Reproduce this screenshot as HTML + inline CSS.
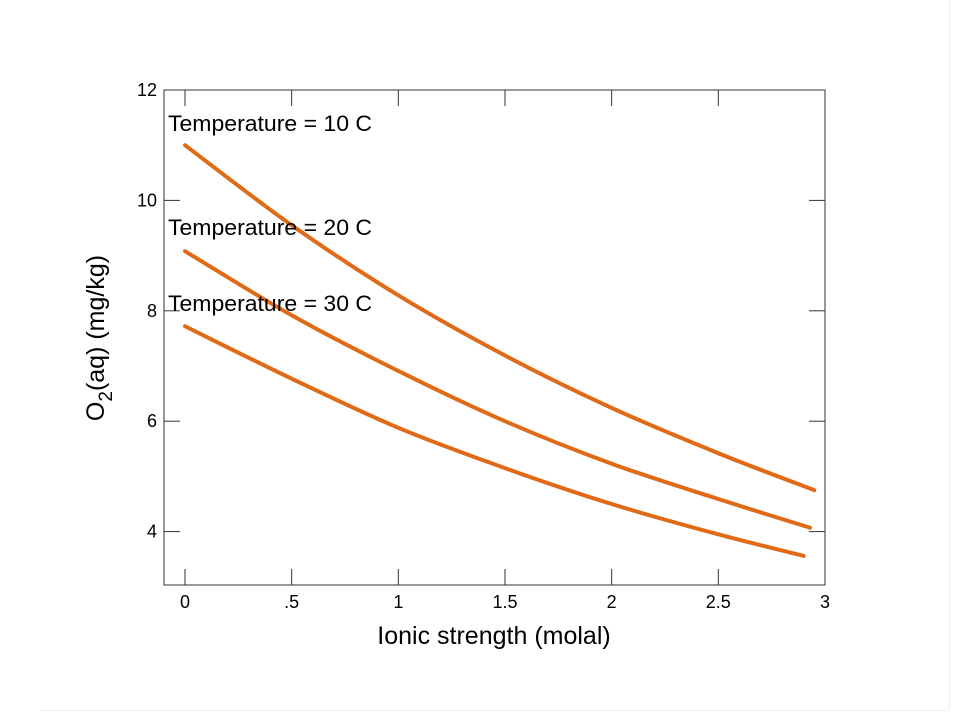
<!DOCTYPE html>
<html><head><meta charset="utf-8"><style>
body{margin:0;background:#fff}
svg{display:block;font-family:"Liberation Sans",Arial,sans-serif}
</style></head><body>
<svg id="chart" width="960" height="720">
<rect x="0" y="0" width="960" height="720" fill="#fff"/>
<line x1="949.5" y1="0" x2="949.5" y2="710" stroke="#eeeeee"/>
<line x1="40" y1="710.5" x2="949" y2="710.5" stroke="#eeeeee"/>
<g id="axes"></g>
<g id="series"></g>
</svg>
<script>
const xTicks=[0,0.5,1,1.5,2,2.5,3];
const xTickLabels=["0",".5","1","1.5","2","2.5","3"];
const yTicks=[4,6,8,10,12];
const yTickLabels=["4","6","8","10","12"];
const ionic10=[0,0.5,1,1.5,2,2.5,2.95];
const o2at10=[11.0,9.55,8.28,7.19,6.24,5.42,4.75];
const ionic20=[0,0.5,1,1.5,2,2.5,2.93];
const o2at20=[9.08,7.92,6.91,6.0,5.23,4.59,4.07];
const ionic30=[0,0.5,1,1.5,2,2.5,2.9];
const o2at30=[7.72,6.77,5.88,5.15,4.5,3.95,3.56];
const seriesLabels=["Temperature = 10 C","Temperature = 20 C","Temperature = 30 C"];
const labelY=[11.26,9.37,8.0];

const NS="http://www.w3.org/2000/svg";
const L=164,R=825,T=90,B=585,TK=16;
const xs=v=>185+v*213.33;
const ys=v=>90+(12-v)*55.2;
function mk(tag,attrs,parent,text){const e=document.createElementNS(NS,tag);for(const k in attrs)e.setAttribute(k,attrs[k]);if(text!==undefined)e.textContent=text;parent.appendChild(e);return e;}
const ax=document.getElementById('axes');
const frame=mk('rect',{x:L,y:T,width:R-L,height:B-T,fill:'none',stroke:'#333','stroke-width':1},ax);


xTicks.forEach((v,i)=>{
  const x=xs(v);
  const t1=mk('line',{x1:x,y1:B,x2:x,y2:B-TK,stroke:'#333'},ax);
  
  
  const t2=mk('line',{x1:x,y1:T,x2:x,y2:T+TK,stroke:'#333'},ax);
  
  
  const lb=mk('text',{x:x,y:B+23,'text-anchor':'middle','font-size':18},ax,xTickLabels[i]);
  
  
});
yTicks.forEach((v,i)=>{
  const y=ys(v);
  const t1=mk('line',{x1:L,y1:y,x2:L+TK,y2:y,stroke:'#333'},ax);
  
  
  const t2=mk('line',{x1:R,y1:y,x2:R-TK,y2:y,stroke:'#333'},ax);
  
  
  const lb=mk('text',{x:L-7,y:y+6,'text-anchor':'end','font-size':18},ax,yTickLabels[i]);
  
  
});
const xt=mk('text',{x:494,y:644,'text-anchor':'middle','font-size':25},ax,'Ionic strength (molal)');


const yt=mk('text',{transform:'translate(104,338) rotate(-90)','text-anchor':'middle','font-size':25},ax);


yt.innerHTML='O<tspan font-size="19" dy="8">2</tspan><tspan dy="-8">(aq) (mg/kg)</tspan>';
const sg=document.getElementById('series');
[[ionic10,o2at10],[ionic20,o2at20],[ionic30,o2at30]].forEach((s,k)=>{
  const pts=s[0].map((x,i)=>[xs(x),ys(s[1][i])]);
  let d='M'+pts[0][0]+','+pts[0][1];
  for(let i=0;i<pts.length-1;i++){
    const p0=pts[i-1]||pts[i],p1=pts[i],p2=pts[i+1],p3=pts[i+2]||p2;
    const c1=[p1[0]+(p2[0]-p0[0])/6,p1[1]+(p2[1]-p0[1])/6];
    const c2=[p2[0]-(p3[0]-p1[0])/6,p2[1]-(p3[1]-p1[1])/6];
    d+=' C'+c1+' '+c2+' '+p2;
  }
  const path=mk('path',{d:d,fill:'none',stroke:'#e06a15','stroke-width':4,'stroke-linecap':'round'},sg);
  
  
  const lb=mk('text',{x:168,y:ys(labelY[k]),'font-size':22,textLength:204,lengthAdjust:'spacingAndGlyphs'},sg,seriesLabels[k]);
  
  
});
</script>
</body></html>
